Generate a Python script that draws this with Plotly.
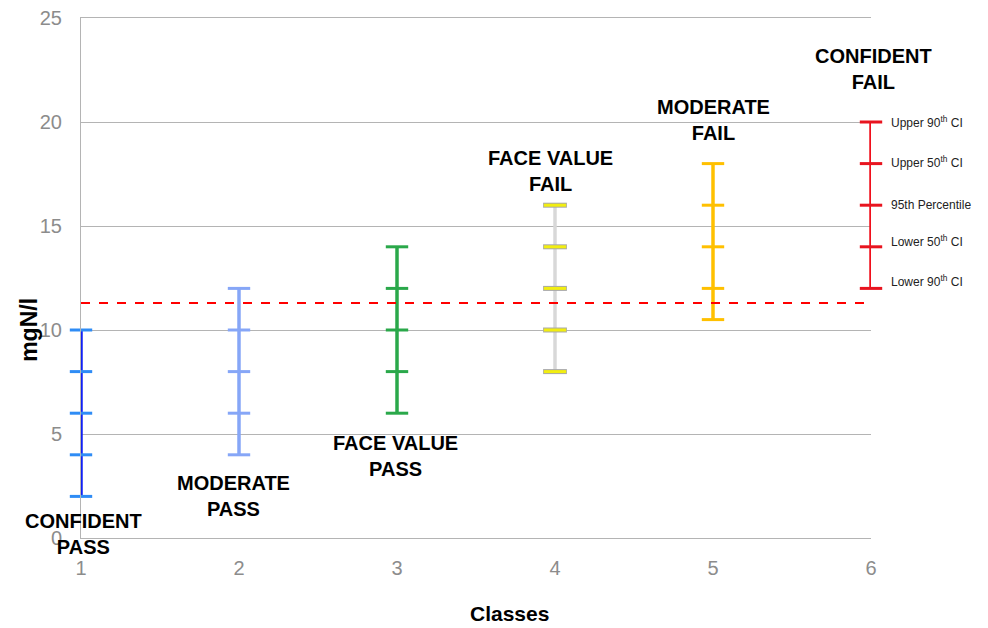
import plotly.graph_objects as go

# data
classes = [1, 2, 3, 4, 5, 6]
lower_90 = [2, 4, 6, 8, 10.5, 12]
lower_50 = [4, 6, 8, 10, 12, 14]
pct_95 = [6, 8, 10, 12, 14, 16]
upper_50 = [8, 10, 12, 14, 16, 18]
upper_90 = [10, 12, 14, 16, 18, 20]
class_names = ['CONFIDENT<br>PASS', 'MODERATE<br>PASS', 'FACE VALUE<br>PASS',
               'FACE VALUE<br>FAIL', 'MODERATE<br>FAIL', 'CONFIDENT<br>FAIL']
threshold = 11.3
legend_labels = ['Upper 90<sup>th</sup> CI', 'Upper 50<sup>th</sup> CI', '95th Percentile',
                 'Lower 50<sup>th</sup> CI', 'Lower 90<sup>th</sup> CI']
y_ticks = [0, 5, 10, 15, 20, 25]

line_colors = ['#1020f5', '#86a6f7', '#2aa84a', '#d8d8d8', '#ffc000', '#f0101c']
cap_colors = ['#2f8cf5', '#86a6f7', '#2aa84a', '#f2ee10', '#ffc000', '#e8141f']

font_family = 'Liberation Sans, Arial, sans-serif'
grid_color = '#b4b4b4'
tick_gray = '#8c8c8c'

fig = go.Figure()

for i, c in enumerate(classes):
    vals = [lower_90[i], lower_50[i], pct_95[i], upper_50[i], upper_90[i]]
    fig.add_trace(go.Scatter(x=[c, c], y=[lower_90[i], upper_90[i]],
                             mode='lines',
                             line=dict(color=line_colors[i], width=3.5),
                             cliponaxis=False,
                             hoverinfo='skip',
                             showlegend=False))
    if i == 3:
        # yellow caps with a grey rim
        fig.add_trace(go.Scatter(x=[c] * 5, y=vals, mode='markers',
                                 marker=dict(symbol='line-ew', size=17,
                                             line=dict(color='#a8a8a8', width=5)),
                                 cliponaxis=False, showlegend=False))
    fig.add_trace(go.Scatter(x=[c] * 5, y=vals, mode='markers',
                             marker=dict(symbol='line-ew', size=16,
                                         line=dict(color=cap_colors[i], width=3)),
                             cliponaxis=False, showlegend=False))

# threshold line
fig.add_trace(go.Scatter(x=[classes[0], classes[-1]], y=[threshold, threshold],
                         mode='lines',
                         line=dict(color='#ff0000', width=2, dash='dash'),
                         cliponaxis=False, showlegend=False))

# class labels (x kept inside the axis range, nudged with xshift)
label_pos = [(1.0, 0.2, 2), (2.0, 2.0, -6), (3.0, 3.95, -2),
             (4.0, 17.65, -5), (5.0, 20.1, 0), (6.0, 22.55, 2)]
for name, (lx, ly, sx) in zip(class_names, label_pos):
    fig.add_annotation(x=lx, y=ly, text='<b>' + name + '</b>', showarrow=False,
                       xanchor='center', yanchor='middle', xshift=sx,
                       font=dict(family=font_family, size=20, color='black'))

# labels for the five levels, next to the last class
level_vals = [upper_90[-1], upper_50[-1], pct_95[-1], lower_50[-1], lower_90[-1]]
shifts = [0, 2, 0, 6, 7]
for lab, v, s in zip(legend_labels, level_vals, shifts):
    fig.add_annotation(x=classes[-1], y=v, text=lab, showarrow=False,
                       xanchor='left', yanchor='middle', xshift=18, yshift=s,
                       font=dict(family=font_family, size=12, color='#222222'))

# axis titles
fig.add_annotation(xref='paper', yref='paper', x=-0.066, y=0.4, text='<b>mgN/l</b>',
                   textangle=-90, showarrow=False, xanchor='center', yanchor='middle',
                   font=dict(family=font_family, size=23, color='black'))
fig.add_annotation(xref='paper', yref='paper', x=0.542, y=-0.146, text='<b>Classes</b>',
                   showarrow=False, xanchor='center', yanchor='middle',
                   font=dict(family=font_family, size=21, color='black'))

# page body adds an offset, so the figure is a bit smaller than the window
fig.update_layout(width=980, height=616,
                  margin=dict(l=73, r=117, t=10, b=86),
                  paper_bgcolor='white', plot_bgcolor='white',
                  font=dict(family=font_family),
                  showlegend=False)

# top and bottom frame lines stand in for the 0 and 25 grid lines
fig.update_xaxes(range=[1, 6], tickvals=classes, showgrid=False, zeroline=False,
                 showline=True, mirror=True, linecolor=grid_color, linewidth=1,
                 ticks='outside', ticklen=12, tickcolor='rgba(0,0,0,0)',
                 automargin=False,
                 tickfont=dict(size=20, color=tick_gray))
fig.update_yaxes(range=[0, 25], tickvals=y_ticks, showgrid=True, gridcolor=grid_color,
                 gridwidth=1, zeroline=False,
                 showline=True, linecolor=grid_color, linewidth=1,
                 ticks='outside', ticklen=14, tickcolor='rgba(0,0,0,0)',
                 ticklabeloverflow='allow', automargin=False,
                 tickfont=dict(size=20, color=tick_gray))

fig.write_html("out.html")
